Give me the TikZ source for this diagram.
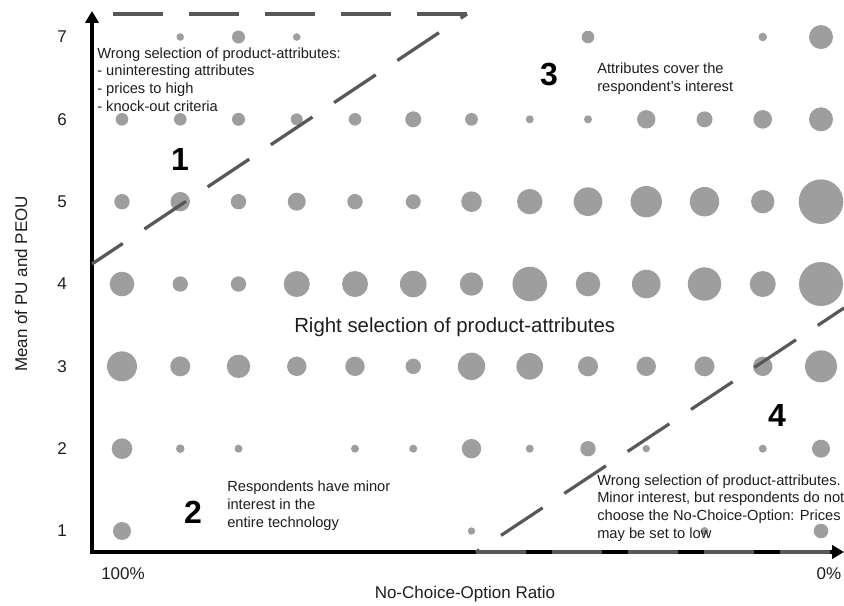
\documentclass[tikz,border=0pt]{standalone}
\usepackage{fontspec}
\setmainfont{Liberation Sans}
\usetikzlibrary{arrows.meta}
\definecolor{dotgray}{RGB}{158,158,158}
\definecolor{dashgray}{RGB}{88,88,88}
\definecolor{txt}{RGB}{30,30,30}
\begin{document}
\begin{tikzpicture}[x=0.75pt,y=-0.75pt,
 dot/.style={fill=dotgray},
 dashline/.style={draw=dashgray,line width=2.4pt,dash pattern=on 37.5pt off 19.5pt},
 axis/.style={line width=3pt,black,line join=miter},
 note/.style={inner sep=0pt,anchor=west,align=left,text=txt,font=\fontsize{11}{13.2}\selectfont},
 region/.style={inner sep=0pt,font=\fontsize{24}{28}\selectfont\bfseries},
 ticklab/.style={inner sep=0pt,text=txt,font=\fontsize{12.75}{15}\selectfont}]
\useasboundingbox (0,0) rectangle (844,606);
% bubbles
\foreach \c/\r/\s in {
 1/7/3.8, 2/7/6.5, 3/7/3.8, 8/7/6.3, 11/7/4.3, 12/7/12,
 0/6/6.3, 1/6/6.3, 2/6/6.5, 3/6/6, 4/6/6.3, 5/6/8, 6/6/6.4, 7/6/4, 8/6/4, 9/6/9.2, 10/6/8, 11/6/9.3, 12/6/12,
 0/5/7.7, 1/5/9.7, 2/5/7.7, 3/5/9, 4/5/7.7, 5/5/7.5, 6/5/10.3, 7/5/12.7, 8/5/14.3, 9/5/15.7, 10/5/14.7, 11/5/11.7, 12/5/22.3,
 0/4/12.3, 1/4/7.7, 2/4/7.7, 3/4/13, 4/4/13, 5/4/13.3, 6/4/11.7, 7/4/17.3, 8/4/12.3, 9/4/14.3, 10/4/16.7, 11/4/13, 12/4/22,
 0/3/15, 1/3/10, 2/3/11.7, 3/3/9.7, 4/3/9.7, 5/3/7.7, 6/3/13.7, 7/3/13.3, 8/3/10, 9/3/9.7, 10/3/10, 11/3/9.7, 12/3/16,
 0/2/10.3, 1/2/4.3, 2/2/4, 4/2/4, 5/2/4, 6/2/9.7, 7/2/4, 8/2/7.7, 9/2/3.7, 11/2/4, 12/2/9,
 0/1/9, 6/1/3.7, 10/1/4, 12/1/7.3}
 \fill[dot] ({122+58.25*\c},{531-82.33*(\r-1)}) circle[radius=\s*0.75pt];
% axes
\coordinate (O) at (92,552);
\coordinate (ytip) at (92,11);
\coordinate (xtip) at (844,552);
\draw[axis,{Triangle[length=9pt,width=10pt]}-{Triangle[length=9pt,width=10pt]}] (ytip) -- (O) -- (xtip);
% region borders
\coordinate (c1) at (467,14);
\coordinate (t1) at (92,14);
\coordinate (d1) at (92,264);
\coordinate (d2) at (476,552);
\coordinate (e2) at (844,308);
\coordinate (x2) at (840,552);
\draw[dashline] (c1) -- (t1);
\draw[dashline,dash phase=9.75pt] (d1) -- (c1);
\draw[dashline,dash phase=34.5pt] (d2) -- (e2);
\draw[dashline] (d2) -- (x2);
% tick labels
\foreach \k in {1,...,7}
 \node[ticklab] (y\k) at (62,{531-82.33*(\k-1)}) {\k};
\node[ticklab] (p100) at (123,574) {100\%};
\node[ticklab] (p0) at (829,574) {0\%};
\node[ticklab] (xlab) at (465,594) {No-Choice-Option Ratio};
\node[ticklab,rotate=90] (ylab) at (21,284) {Mean of PU and PEOU};
% region texts
\node[note] (t1txt) at (97,79.5) {Wrong selection of product-attributes:\\- uninteresting attributes\\- prices to high\\- knock-out criteria};
\node[region] (r1) at (180,159) {1};
\node[region] (r3) at (549,75) {3};
\node[note] (t3txt) at (597,79) {Attributes cover the\\respondent’s interest};
\node[inner sep=0pt,anchor=west,text=txt,font=\fontsize{15.3}{18}\selectfont] (mid) at (294,327) {Right selection of product-attributes};
\node[region] (r2) at (193,512) {2};
\node[note] (t2txt) at (227,505.7) {Respondents have minor\\interest in the\\entire technology};
\node[region] (r4) at (777,415) {4};
\node[note] (t4txt) at (597,508) {Wrong selection of product-attributes.\\Minor interest, but respondents do not\\choose the No-Choice-Option: Prices\\may be set to low};
\end{tikzpicture}
\end{document}
